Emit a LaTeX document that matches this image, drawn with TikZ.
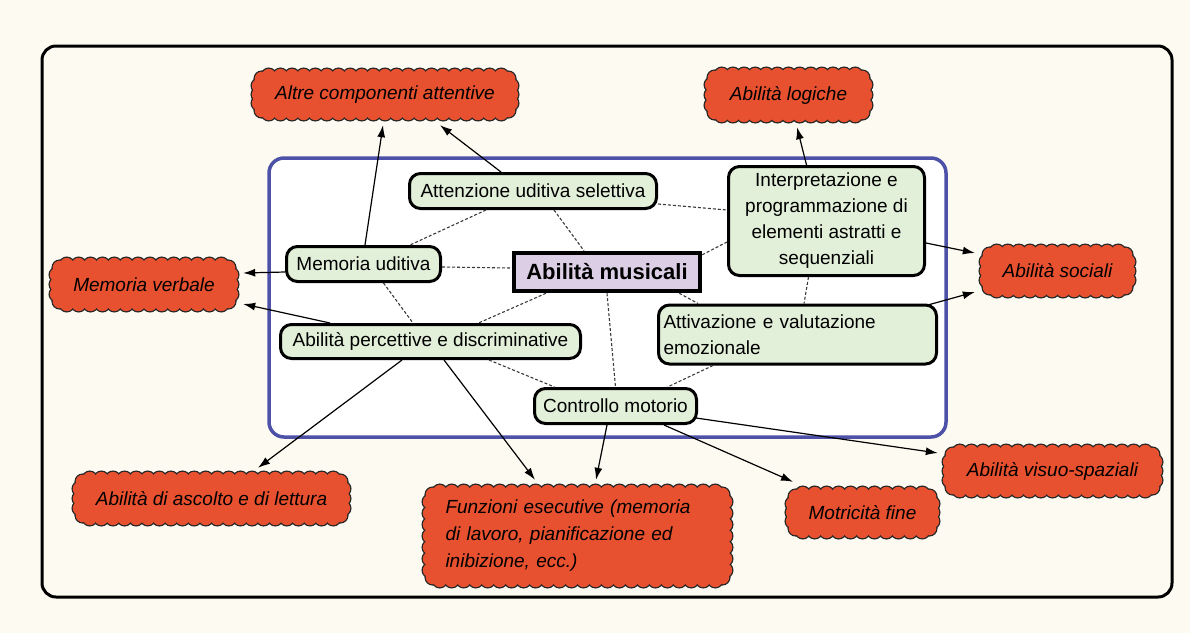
\documentclass[tikz,border=0pt]{standalone}
\usepackage{fontspec}
\setmainfont{Liberation Sans}
\usetikzlibrary{arrows.meta}
\pgfdeclarelayer{frames}
\pgfdeclarelayer{clouds}
\pgfsetlayers{frames,clouds,main}
\definecolor{bgcream}{HTML}{FDFBF1}
\definecolor{boxgreen}{HTML}{E2EFD9}
\definecolor{muspurple}{HTML}{DCCFE5}
\definecolor{cloudred}{HTML}{E8512F}
\definecolor{frameblue}{HTML}{4D52A8}
\definecolor{dashgray}{HTML}{3A3A3A}
\tikzset{
  greenbox/.style={draw=black, line width=3pt, rounded corners=11pt, fill=boxgreen,
    font=\fontsize{19}{26}\selectfont, inner sep=0pt, align=center},
  musbox/.style={draw=black, line width=4.5pt, fill=muspurple,
    font=\fontsize{22}{26}\selectfont\bfseries, inner sep=0pt},
  cloudbox/.style={inner sep=0pt, align=center, text=black,
    font=\fontsize{19}{27}\selectfont\itshape},
  solidarrow/.style={draw=black, line width=1.2pt, -{Latex[length=12pt,width=8pt]}},
  dashline/.style={draw=dashgray, line width=1.1pt, dash pattern=on 3pt off 2pt},
  scallopline/.style={draw=black!85, line width=2.6pt},
  scallopfill/.style={fill=cloudred}
}
\def\rr{7}
\def\Rc{10}
% circles along a rounded rectangle (canvas pt)
\newcommand\scallopcircles[1]{%
  \pgfmathsetmacro\Lh{\Xb-\Xa-2*\Rc}%
  \pgfmathtruncatemacro\nh{max(1,ceil(\Lh/12))}%
  \foreach \i in {0,...,\nh}{%
    \pgfmathsetmacro\px{\Xa+\Rc+\i*\Lh/\nh}%
    \path[#1] (\px pt,\Ya pt) circle[radius=\rr pt] (\px pt,\Yb pt) circle[radius=\rr pt];
  }%
  \pgfmathsetmacro\Lv{\Yb-\Ya-2*\Rc}%
  \pgfmathtruncatemacro\nv{max(1,ceil(\Lv/12))}%
  \foreach \i in {0,...,\nv}{%
    \pgfmathsetmacro\py{\Ya+\Rc+\i*\Lv/\nv}%
    \path[#1] (\Xa pt,\py pt) circle[radius=\rr pt] (\Xb pt,\py pt) circle[radius=\rr pt];
  }%
  \pgfmathsetmacro\dd{\Rc*(1-0.7071)}%
  \pgfmathsetmacro\cxa{\Xa+\dd}\pgfmathsetmacro\cxb{\Xb-\dd}%
  \pgfmathsetmacro\cya{\Ya+\dd}\pgfmathsetmacro\cyb{\Yb-\dd}%
  \path[#1] (\cxa pt,\cya pt) circle[radius=\rr pt] (\cxb pt,\cya pt) circle[radius=\rr pt]
            (\cxa pt,\cyb pt) circle[radius=\rr pt] (\cxb pt,\cyb pt) circle[radius=\rr pt];
}
\newcommand\drawscallop[1]{%
  \path (#1.south west); \pgfgetlastxy{\sxa}{\sya}%
  \path (#1.north east); \pgfgetlastxy{\sxb}{\syb}%
  \pgfmathsetmacro\Xa{\sxa+\rr}\pgfmathsetmacro\Xb{\sxb-\rr}%
  \pgfmathsetmacro\Ya{\sya+\rr}\pgfmathsetmacro\Yb{\syb-\rr}%
  \scallopcircles{scallopline}%
  \scallopcircles{scallopfill}%
  \fill[cloudred, rounded corners=\Rc pt] (\Xa pt,\Ya pt) rectangle (\Xb pt,\Yb pt);
}
\begin{document}
\begin{tikzpicture}[x=1pt,y=-1pt]
\useasboundingbox (0,0) rectangle (1190,633);
\begin{pgfonlayer}{frames}
\fill[bgcream] (0,0) rectangle (1190,633);
\draw[line width=3pt, rounded corners=14pt, fill=bgcream] (42,46) rectangle (1172,597);
\draw[frameblue, line width=3.5pt, rounded corners=15pt, fill=white] (269,158) rectangle (946,437);
\end{pgfonlayer}

% green nodes
\node[greenbox, minimum width=247pt, minimum height=35pt] (att) at (533,191) {Attenzione uditiva selettiva};
\node[greenbox, minimum width=154pt, minimum height=35pt] (memu) at (363.5,264) {Memoria uditiva};
\node[musbox, minimum width=186pt, minimum height=38pt] (mus) at (607,272) {Abilità musicali};
\node[greenbox, minimum width=300pt, minimum height=34pt] (perc) at (430.5,341.5) {Abilità percettive e discriminative};
\node[greenbox, minimum width=162pt, minimum height=35pt] (ctrl) at (615.5,406) {Controllo motorio};
\node[greenbox, minimum width=196pt, minimum height=109pt] (interp) at (826.5,221) {Interpretazione e\\programmazione di\\elementi astratti e\\sequenziali};
\node[greenbox, minimum height=59pt, text width=268pt, inner xsep=5pt, align=left] (attiv) at (797.5,334.5) {Attivazione e valutazione\\emozionale};

% cloud nodes (outer bounds)
\node[cloudbox, minimum width=266pt, minimum height=51pt] (altre) at (385,94.5) {Altre componenti attentive};
\node[cloudbox, minimum width=167pt, minimum height=54pt] (logiche) at (788.5,95) {Abilità logiche};
\node[cloudbox, minimum width=188pt, minimum height=53pt] (memverb) at (144,284.5) {Memoria verbale};
\node[cloudbox, minimum width=155pt, minimum height=52pt] (sociali) at (1057.5,271) {Abilità sociali};
\node[cloudbox, minimum width=277pt, minimum height=53pt] (ascolto) at (211.5,498.5) {Abilità di ascolto e di lettura};
\node[cloudbox, minimum height=102pt, text width=264pt, inner xsep=22.5pt, align=left] (funz) at (577.5,536) {Funzioni esecutive (memoria\\di lavoro, pianificazione ed\\inibizione, ecc.)};
\node[cloudbox, minimum width=153pt, minimum height=51pt] (motr) at (862.5,512.5) {Motricità fine};
\node[cloudbox, minimum width=219pt, minimum height=52pt] (visuo) at (1052.5,471) {Abilità visuo-spaziali};

\begin{pgfonlayer}{clouds}
\drawscallop{altre}
\drawscallop{logiche}
\drawscallop{memverb}
\drawscallop{sociali}
\drawscallop{ascolto}
\drawscallop{funz}
\drawscallop{motr}
\drawscallop{visuo}
\end{pgfonlayer}

% dashed connectors
\draw[dashline] ([xshift=-47pt]att.south) -- ([xshift=46.5pt]memu.north);
\draw[dashline] ([xshift=21pt]att.south) -- ([xshift=-23pt]mus.north);
\draw[dashline] ([yshift=-13pt]att.east) -- ([yshift=11pt]interp.west);
\draw[dashline] ([yshift=-4pt]mus.north east) -- ([yshift=-21pt]interp.west);
\draw[dashline] ([yshift=-3pt]memu.east) -- ([yshift=4pt]mus.west);
\draw[dashline] ([xshift=20pt]memu.south) -- ([xshift=-17.5pt]perc.north);
\draw[dashline] ([xshift=-61pt]mus.south) -- ([xshift=48pt]perc.north);
\draw[dashline] (mus.south) -- (ctrl.north);
\draw[dashline] ([xshift=-23pt]mus.south east) -- ([xshift=41pt]attiv.north west);
\draw[dashline] ([xshift=-18pt]interp.south) -- ([xshift=6.5pt]attiv.north);
\draw[dashline] ([xshift=58.5pt]perc.south) -- ([xshift=-61pt]ctrl.north);
\draw[dashline] ([xshift=56pt]attiv.south west) -- ([xshift=52pt]ctrl.north);

% solid arrows
\draw[solidarrow] ([xshift=1.5pt]memu.north) -- ([shift={(-2pt,-5pt)}]altre.south);
\draw[solidarrow] ([xshift=-32pt]att.north) -- ([shift={(55pt,-5pt)}]altre.south);
\draw[solidarrow] ([xshift=-20pt]interp.north) -- ([shift={(8.5pt,-5pt)}]logiche.south);
\draw[solidarrow] ([yshift=-22pt]interp.east) -- ([shift={(-5pt,18pt)}]sociali.west);
\draw[solidarrow] ([shift={(-12pt,-2pt)}]attiv.north east) -- ([shift={(-5pt,-21pt)}]sociali.west);
\draw[solidarrow] ([yshift=-8pt]memu.west) -- ([shift={(5pt,11.5pt)}]memverb.east);
\draw[solidarrow] ([xshift=51pt]perc.north west) -- ([shift={(5pt,-19.5pt)}]memverb.east);
\draw[solidarrow] ([xshift=-28.5pt]perc.south) -- ([shift={(46.5pt,4pt)}]ascolto.north);
\draw[solidarrow] ([xshift=13.5pt]perc.south) -- ([shift={(-42.5pt,5pt)}]funz.north);
\draw[solidarrow] ([xshift=-8.5pt]ctrl.south) -- ([shift={(18.5pt,5pt)}]funz.north);
\draw[solidarrow] ([xshift=48.5pt]ctrl.south) -- ([shift={(-69.5pt,5pt)}]motr.north);
\draw[solidarrow] ([shift={(-2pt,-12pt)}]ctrl.east) -- ([shift={(-5pt,18pt)}]visuo.west);
\end{tikzpicture}
\end{document}
